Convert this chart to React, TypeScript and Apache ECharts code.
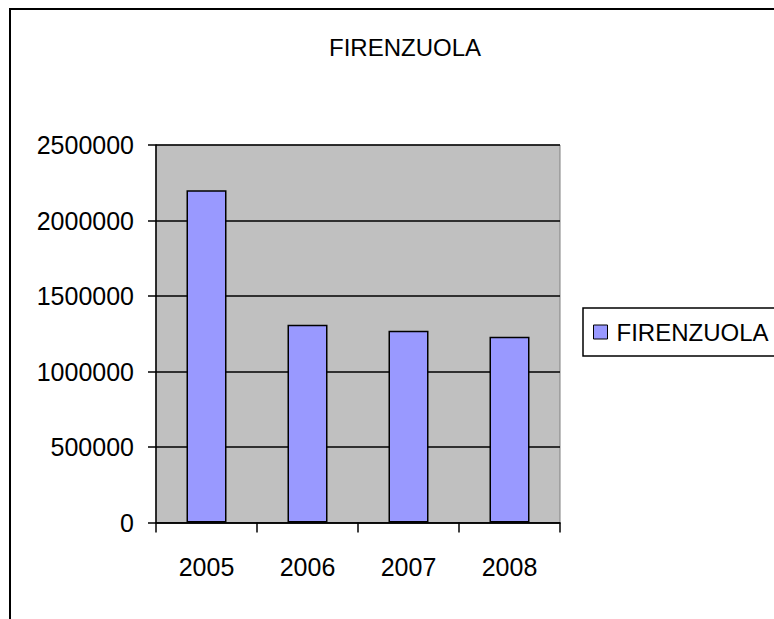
import React, { useEffect, useRef } from "react";
import * as echarts from "echarts";

const categories = ["2005", "2006", "2007", "2008"];
const seriesName = "FIRENZUOLA";
const values = [2200000, 1310000, 1270000, 1230000];
const yTicks = { min: 0, max: 2500000, interval: 500000 };

export default function App() {
  const ref = useRef<HTMLDivElement>(null);
  useEffect(() => {
    if (!ref.current) return;
    const chart = echarts.init(ref.current, null, { renderer: "svg" });
    const font = "'Liberation Sans', Arial, sans-serif";
    chart.setOption({
      animation: false,
      backgroundColor: "#ffffff",
      title: {
        text: seriesName,
        left: 400,
        textAlign: "center",
        top: 30,
        textStyle: { fontFamily: font, fontSize: 24, fontWeight: "normal", color: "#000" },
      },
      graphic: [
        {
          type: "rect",
          shape: { x: 10, y: 9, width: 900, height: 800 },
          style: { fill: "none", stroke: "#000", lineWidth: 2 },
          silent: true,
          z: 100,
        },
      ],
      legend: {
        left: 583,
        top: 308,
        orient: "vertical",
        padding: [12, 30, 12, 10],
        borderColor: "#000",
        borderWidth: 1.5,
        icon: "rect",
        itemWidth: 14,
        itemHeight: 14,
        itemStyle: { borderColor: "#000", borderWidth: 1 },
        textStyle: { fontFamily: font, fontSize: 24, color: "#000", padding: [0, 0, 0, 4] },
        data: [seriesName],
      },
      grid: {
        left: 156,
        top: 145,
        right: 214,
        bottom: 96.5,
        show: true,
        backgroundColor: "#C0C0C0",
        borderColor: "#808080",
        borderWidth: 1,
      },
      xAxis: {
        type: "category",
        data: categories,
        boundaryGap: true,
        axisLine: { lineStyle: { color: "#000", width: 1.5 } },
        axisTick: { show: true, alignWithLabel: false, length: 10, lineStyle: { color: "#000", width: 1.5 } },
        axisLabel: { fontFamily: font, fontSize: 25, color: "#000", margin: 32 },
      },
      yAxis: {
        type: "value",
        min: yTicks.min,
        max: yTicks.max,
        interval: yTicks.interval,
        axisLine: { show: true, lineStyle: { color: "#000", width: 1.5 } },
        axisTick: { show: true, length: 8, lineStyle: { color: "#000", width: 1.5 } },
        axisLabel: {
          fontFamily: font,
          fontSize: 25,
          color: "#000",
          margin: 22,
          formatter: (v: number) => String(v),
        },
        splitLine: { show: true, lineStyle: { color: "#000", width: 1.5 } },
      },
      series: [
        {
          name: seriesName,
          type: "bar",
          data: values,
          barWidth: 40,
          itemStyle: { color: "#9999FF", borderColor: "#000", borderWidth: 1.5 },
        },
      ],
    });
    return () => chart.dispose();
  }, []);
  return (
    <div
      ref={ref}
      style={{ position: "absolute", left: 0, top: 0, width: 774, height: 619 }}
    />
  );
}
